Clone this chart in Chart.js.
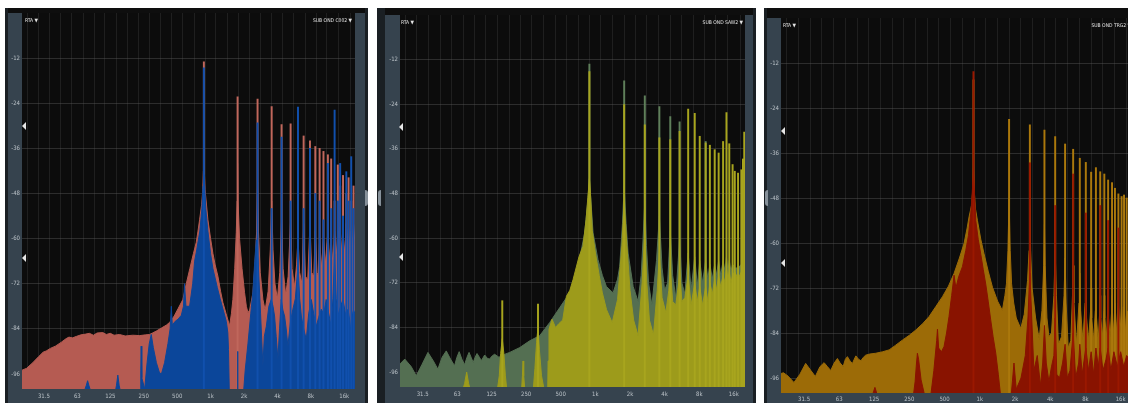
<!DOCTYPE html>
<html>
<head>
<meta charset="utf-8">
<script src="https://cdn.jsdelivr.net/npm/chart.js@4.4.1/dist/chart.umd.min.js"></script>
<style>
  body { margin: 0; width: 1128px; height: 403px; overflow: hidden; background: #fff; position: relative; }
  .frame { position: absolute; top: 8px; height: 395px; background: #1a1f23; }
  .band { position: absolute; top: 8px; background: #0e0e0e; }
  .strip { position: absolute; background: #36434e; }
  canvas { position: absolute; }
  .tag { position: absolute; color: #e4e4e4; font: 5px/6px 'DejaVu Sans Condensed', sans-serif; white-space: nowrap; }
  .marker { position: absolute; width: 0; height: 0; border-top: 4px solid transparent; border-bottom: 4px solid transparent; border-right: 4px solid #e6e6e6; }
  .handle { position: absolute; width: 3px; height: 16px; top: 190px; background: #87919a; }
</style>
</head>
<body>
<!-- panel 1 -->
<div class="frame" style="left:5px;width:363px"></div>
<div class="band" style="left:8px;width:357px;height:5px"></div>
<div class="strip" style="left:8px;top:13px;width:357px;height:390px"></div>
<div class="handle" style="left:365px;border-radius:0 4px 4px 0"></div>
<canvas id="rta1" width="355" height="390" style="left:8px;top:13px"></canvas>
<span class="tag" style="left:25px;top:17px">RTA ▼</span>
<span class="tag" style="right:776px;top:17px">SUB OND C002 ▼</span>
<div class="marker" style="left:22px;top:122px"></div>
<div class="marker" style="left:22px;top:254px"></div>

<!-- panel 2 -->
<div class="frame" style="left:377px;width:379px"></div>
<div class="band" style="left:385px;width:368px;height:7px"></div>
<div class="strip" style="left:385px;top:15px;width:368px;height:388px"></div>
<div class="handle" style="left:378px;border-radius:4px 0 0 4px"></div>
<canvas id="rta2" width="367" height="388" style="left:386px;top:15px"></canvas>
<span class="tag" style="left:401px;top:19px">RTA ▼</span>
<span class="tag" style="right:385px;top:19px">SUB OND SAW2 ▼</span>
<div class="marker" style="left:399px;top:123px"></div>
<div class="marker" style="left:399px;top:253px"></div>

<!-- panel 3 -->
<div class="frame" style="left:764px;width:380px"></div>
<div class="band" style="left:767px;width:380px;height:10px"></div>
<div class="strip" style="left:767px;top:18px;width:380px;height:385px"></div>
<div class="handle" style="left:765px;border-radius:4px 0 0 4px"></div>
<canvas id="rta3" width="372" height="385" style="left:768px;top:18px"></canvas>
<span class="tag" style="left:783px;top:22px">RTA ▼</span>
<span class="tag" style="right:-3px;top:22px">SUB OND TRG2 ▼</span>
<div class="marker" style="left:781px;top:127px"></div>
<div class="marker" style="left:781px;top:259px"></div>

<script>
// axis ticks
const thirdOctaves = [25, 31.5, 40, 50, 63, 80, 100, 125, 160, 200, 250, 315, 400, 500, 630, 800,
  1000, 1250, 1600, 2000, 2500, 3150, 4000, 5000, 6300, 8000, 10000, 12500, 16000];
const octaveFreqs = [31.5, 63, 125, 250, 500, 1000, 2000, 4000, 8000, 16000];
const octaveLabels = ['31.5', '63', '125', '250', '500', '1k', '2k', '4k', '8k', '16k'];
const levelTicks = [-96, -84, -72, -60, -48, -36, -24, -12];

// panel 1 - C002: [Hz, dB]
const c002Back = [[20,-95],[22,-94.5],[25,-93],[28,-91.5],[31,-90.2],[33,-89.9],[36,-89.2],[40,-88.6],[45,-87.6],[50,-86.6],
  [53,-86.2],[57,-86.4],[62,-86],[68,-85.6],[75,-85.4],[81,-85.2],[88,-85.7],[95,-85.1],[107,-85],[115,-85.5],[125,-85.2],
  [135,-85.7],[151,-85.5],[170,-85.9],[199,-85.7],[230,-85.8],[260,-85.6],[282,-85.5],[300,-85.1],[324,-84.6],[360,-83.8],
  [400,-83],[427,-82.3],[470,-80.6],[510,-78.6],[563,-76.2],[604,-72],[650,-68],[700,-64],[743,-61],[770,-58],
  [796,-55],[830,-51],[850,-47],[862,-42],[870,-36],[878,-42],[892,-47],[946,-55],[1000,-60],[1050,-64],[1100,-67],
  [1164,-70],[1230,-74],[1291,-77],[1380,-80],[1483,-83.2],[1540,-80],[1588,-76.2],[1650,-68],[1704,-58.4],[1735,-50],
  [1751,-40],[1767,-50],[1826,-60.3],[1920,-68],[2024,-74.4],[2100,-78],[2170,-79.7],[2250,-79],[2406,-74.4],[2520,-66],
  [2600,-58],[2650,-45],[2700,-58],[2800,-69],[2960,-76.2],[3100,-79],[3300,-74],[3450,-63],[3550,-50],[3650,-63],[3800,-72],
  [4000,-76],[4200,-69],[4360,-55],[4500,-68],[4750,-75],[5000,-70],[5260,-55],[5420,-68],[5700,-73],[5950,-67],[6130,-60],
  [6350,-69],[6650,-72],[6890,-56],[7150,-70],[7500,-71],[7860,-56],[8150,-69],[8500,-70],[8780,-58],[9100,-69],[9350,-70],
  [9600,-60],[9950,-68],[10400,-60],[10800,-67],[11400,-58],[11800,-66],[12200,-60],[12650,-67],[13100,-58],[13550,-65],
  [14000,-58],[14350,-66],[14700,-57],[15150,-64],[15600,-58],[16150,-64],[16700,-56],[17100,-63],[17500,-57],[18000,-64],
  [18500,-58],[18950,-63],[19400,-56],[20000,-62]];
const c002Front = [[20,-101],[72,-101],[76,-99],[78,-97.8],[80,-99],[84,-101],[138,-101],[142,-99],[146,-96.3],[150,-99],
  [155,-101],[232,-101],[235,-95],[237,-88.6],[240,-97],[255,-100],[268,-93],[280,-88],[292,-85.5],[305,-89],[325,-93],
  [345,-95.5],[360,-96.1],[385,-93],[413,-87.9],[432,-84],[443,-78],[452,-83],[480,-82],[510,-81.4],[545,-80.4],[570,-78],
  [582,-72],[600,-78],[647,-78],[690,-72],[718,-66],[750,-63],[800,-58],[835,-52],[855,-46],[870,-43],[885,-46],
  [905,-52],[946,-58],[1000,-64],[1050,-68],[1150,-73],[1220,-76],[1300,-79],[1385,-82],[1430,-85],[1450,-89.5],
  [1475,-101],[1740,-101],[1751,-90],[1762,-101],[1980,-101],[2050,-95],[2170,-88],[2300,-80],[2406,-74],[2500,-66],
  [2580,-60.3],[2650,-62],[2720,-70],[2820,-80],[2960,-93.9],[3050,-86],[3180,-83.3],[3350,-78],[3520,-76.2],[3650,-78],
  [3770,-80.6],[3900,-86],[4040,-92.1],[4180,-84],[4330,-76.2],[4480,-79],[4640,-80.6],[4800,-84],[4970,-88.6],[5250,-82],
  [5510,-78.8],[5800,-76],[6130,-67.3],[6350,-76],[6570,-80.6],[6900,-84],[7280,-86.8],[7650,-80],[8080,-76.2],[8500,-80],
  [8960,-83.3],[9400,-81],[9940,-78.8],[10450,-80],[11000,-76.2],[11600,-80],[12200,-83.3],[12650,-76],[13100,-64],
  [13550,-76],[14000,-80.6],[14800,-78],[15600,-76.2],[16400,-80],[17300,-78.8],[18000,-82],[18600,-86.8],[19000,-80],
  [19400,-79],[20000,-80]];
const c002BackLineHz = [870, 1751, 2650, 3550, 4360, 5260, 6130, 6890, 7860, 8780, 9600, 10400, 11400, 12200, 13100,
  14000, 14700, 15600, 16700, 17500, 18500, 19400];
const c002BackLineDb = [-13, -22.3, -22.9, -24.9, -29.7, -29.5, -48, -32.7, -34, -35.5, -36, -36.8, -37.7, -38.8, -50,
  -40.4, -46, -43.2, -48, -43.8, -50, -46];
const c002FrontLineHz = [870, 2650, 3550, 4360, 5260, 6130, 6890, 7860, 8780, 9600, 10400, 11400, 12200, 13100, 14000,
  14700, 15600, 16700, 17500, 18500, 19400];
const c002FrontLineDb = [-14.6, -29.2, -52, -33, -50, -25, -52, -36, -48, -50, -55, -40, -52, -25.8, -50,
  -40, -54, -42.2, -50, -38.2, -52];

// panel 2 - SAW2
const saw2Back = [[20,-93.8],[22,-92.5],[25,-94.5],[27.7,-97],[31,-94],[35,-90.7],[39,-93],[42.7,-95.2],[46.5,-92],
  [50.5,-90.3],[55,-92.5],[59.6,-94.3],[62.5,-92],[65.4,-90.5],[69,-92.5],[72.9,-94],[76.5,-92],[79.7,-90.7],[83,-92],
  [86.6,-93.4],[90,-92],[93.5,-91],[98,-92],[102,-92.9],[109,-91.4],[115,-92.3],[120,-92.5],[127,-91.6],[133,-91.2],
  [145,-92],[160,-91.3],[180,-90.7],[220,-89.4],[268,-87.6],[328,-86.2],[400,-82.7],[489,-78.7],[598,-74.7],[707,-67.6],
  [807,-58.6],[860,-50],[887,-44],[915,-50],[955,-58.6],[1054,-65.8],[1150,-70],[1247,-73],[1425,-74.7],[1560,-71],
  [1627,-67.6],[1720,-56],[1780,-46],[1850,-56],[1925,-64],[2130,-73],[2350,-77],[2500,-70],[2600,-60],[2690,-50],
  [2780,-62],[2900,-72],[3100,-78],[3400,-66],[3600,-54],[3800,-68],[4000,-74],[4250,-72],[4480,-58],[4700,-70],
  [5000,-76],[5250,-66],[5400,-60],[5650,-72],[6000,-75],[6410,-64],[6800,-74],[7310,-65],[7700,-73],[8080,-66],
  [8550,-72],[9100,-66],[9500,-71],[9900,-67],[10400,-71],[10900,-67],[11300,-70],[11800,-66],[12300,-70],[12900,-66],
  [13400,-69],[13800,-65],[14200,-69],[14600,-66],[15100,-69],[15600,-67],[16300,-68],[17400,-68],[18600,-67],
  [19200,-68],[20000,-68]];
const saw2Front = [[20,-101],[70,-101],[73,-99],[76,-96],[79,-99],[82,-101],[140,-101],[146,-97],[150,-91],[155,-87],
  [160,-91],[165,-97],[170,-101],[228,-101],[232,-97],[235,-93],[238,-97],[244,-101],[288,-101],[298,-95],[308,-88],
  [317,-84],[326,-90],[340,-97],[360,-101],[385,-101],[388,-93],[395,-84.5],[420,-81.8],[450,-84],[480,-83],[520,-82],
  [560,-75.6],[600,-74],[640,-71.1],[720,-65],[780,-62.2],[830,-55],[860,-49],[887,-44],[910,-49],[940,-58],[1000,-64],
  [1080,-70],[1150,-74.7],[1250,-79.2],[1400,-82.7],[1560,-76.5],[1700,-62],[1780,-50],[1880,-62],[2000,-74],
  [2150,-82],[2350,-86.2],[2550,-72],[2690,-58],[2800,-72],[2950,-82],[3200,-86],[3450,-74],[3600,-64],[3800,-76],
  [4100,-80],[4350,-74],[4480,-68],[4700,-77],[5000,-78],[5300,-72],[5400,-68],[5650,-77],[6000,-76],[6410,-70],
  [6800,-78],[7310,-72],[7700,-77],[8080,-73],[8550,-78],[9100,-73],[9500,-77],[9900,-72],[10400,-75],[10900,-71],
  [11300,-74],[11800,-70],[12300,-73],[12900,-70],[13400,-72],[13800,-68],[14200,-71],[14600,-69],[15100,-72],
  [15600,-70],[16300,-69],[17400,-71],[18600,-69],[19200,-70],[20000,-70]];
const saw2BackLineHz = [887, 1780, 2690, 3600, 4480, 5400, 9100];
const saw2BackLineDb = [-13.2, -17.7, -21.7, -24.6, -27.3, -28.7, -34];
const saw2FrontLineHz = [155, 317, 887, 1780, 2690, 3600, 4480, 5400, 6410, 7310, 8080, 9100, 9900, 10900, 11800,
  12900, 13800, 14600, 15600, 16300, 17400, 18600, 19200, 19700];
const saw2FrontLineDb = [-76.8, -77.7, -15.2, -24.1, -29.5, -33, -33.5, -31.3, -25.3, -26.4, -32.6, -34.4, -35, -36.2,
  -37.1, -34, -26.2, -34.6, -40.2, -42, -42.5, -41.6, -38.7, -31.5];

// panel 3 - TRG2
const trg2Back = [[20,-94.8],[21,-94.6],[23,-95.5],[25.8,-97.2],[29,-95],[32.5,-92.1],[36,-94],[39.3,-95.6],[43,-93],
  [46.7,-91.9],[50,-93],[53.2,-94],[57,-92],[60.7,-90.8],[64,-92],[68,-92.9],[71,-91],[73.9,-90.3],[78,-91.5],
  [81.7,-92.1],[84.5,-91],[87.3,-90.1],[92,-91],[96.4,-91.4],[101,-90.5],[106,-89.9],[115,-89.6],[129,-89.4],[148,-89],
  [168,-88.5],[190,-87.3],[218,-85.9],[250,-84.6],[284,-83.2],[325,-81.5],[369,-79.6],[420,-77],[480,-74.3],[540,-71.5],
  [603,-68.1],[670,-64],[734,-60.1],[780,-56],[810,-53],[850,-50],[870,-46],[883,-40],[896,-46],[920,-51],[955,-54],
  [1020,-59],[1088,-62.9],[1180,-67.5],[1284,-71.8],[1420,-75.5],[1560,-78],[1640,-74],[1690,-70.9],[1740,-62],
  [1780,-48],[1820,-62],[1870,-70.9],[1950,-76],[2050,-80],[2240,-82.8],[2400,-79],[2560,-70],[2640,-62],[2680,-50],
  [2720,-62],[2800,-72],[3000,-80],[3220,-85.7],[3400,-78],[3520,-66],[3570,-55],[3620,-66],[3750,-80],[3900,-85],
  [4100,-84],[4300,-74],[4410,-62],[4520,-74],[4700,-87],[5000,-85],[5250,-74],[5360,-64],[5470,-76],[5700,-88],
  [6000,-86],[6200,-74],[6280,-66],[6380,-76],[6700,-87],[7050,-76],[7160,-68],[7280,-78],[7600,-86],[7950,-76],
  [8060,-70],[8180,-80],[8500,-86],[8850,-78],[8950,-72],[9050,-80],[9400,-86],[9730,-78],[9830,-72],[9950,-80],
  [10300,-86],[10600,-78],[10700,-74],[10800,-80],[11200,-85],[11500,-78],[11600,-74],[11700,-80],[12100,-85],
  [12400,-78],[12500,-74],[12600,-80],[13000,-85],[13400,-78],[13500,-74],[13600,-80],[13900,-84],[14300,-76],
  [14800,-84],[15300,-76],[15800,-84],[16300,-77],[16700,-84],[17100,-77],[17600,-84],[18000,-78],[20000,-80]];
const trg2Front = [[20,-101],[120,-101],[124,-99.5],[127,-98.5],[130,-99.5],[134,-101],[270,-101],[280,-97],[288,-92],
  [293,-89.4],[300,-91],[315,-96.5],[340,-101],[380,-101],[405,-94],[428,-86],[435,-83],[445,-88],[470,-89],[495,-87.6],
  [520,-84],[546,-79.6],[575,-74],[603,-68.6],[625,-72],[660,-69],[711,-66.3],[759,-62],[800,-58],[838,-52],[860,-47],
  [883,-41],[905,-48],[924,-54],[970,-59],[1020,-63],[1070,-67],[1125,-71],[1180,-75.5],[1240,-80.5],[1300,-85],
  [1370,-89.4],[1440,-95],[1510,-101],[1850,-101],[1900,-97],[1960,-92],[2050,-99],[2250,-96],[2450,-90],[2580,-80],
  [2680,-68],[2780,-80],[2900,-94],[3100,-90],[3300,-98],[3450,-92],[3570,-82],[3700,-92],[3900,-97],[4100,-93],
  [4300,-90],[4410,-80],[4550,-95],[4800,-96],[5100,-92],[5360,-87],[5600,-96],[5900,-94],[6280,-84],[6600,-96],
  [7000,-92],[7160,-87],[7500,-95],[8060,-88],[8500,-94],[8950,-89],[9400,-95],[9830,-88],[10300,-93],[10700,-88],
  [11300,-94],[12000,-91],[12500,-88],[13200,-94],[14000,-89],[15000,-93],[16000,-89],[17000,-93],[18000,-90],
  [20000,-92]];
const trg2BackLineHz = [883, 1780, 2680, 3570, 4410, 5360, 6280, 7160, 8060, 8950, 9830, 10700, 11600, 12500, 13500,
  14300, 15300, 16300, 17100, 18000, 19000];
const trg2BackLineDb = [-16.5, -27, -28.5, -29.9, -31.6, -33.6, -35, -37.4, -38.5, -41.1, -39.9, -41, -41.6, -43.2,
  -43.9, -45.4, -46.9, -47.6, -47.2, -48, -49];
const trg2FrontLineHz = [883, 2680, 4410, 6280, 8060, 10700, 12500, 15300];
const trg2FrontLineDb = [-14.3, -38.6, -50, -41.6, -52, -50, -54, -56];

Chart.defaults.font.family = "'DejaVu Sans Condensed', 'Liberation Sans Narrow', sans-serif";

// black plot field behind the spectrum
const plotBackground = {
  id: 'plotBackground',
  beforeDraw(chart) {
    const { ctx, chartArea: { left, top, width, height } } = chart;
    ctx.save();
    ctx.fillStyle = '#0c0c0c';
    ctx.fillRect(left, top, width, height);
    ctx.restore();
  }
};

const toPoints = pairs => pairs.map(([hz, db]) => ({ x: hz, y: db }));
const toLines = (hz, db) => hz.map((f, i) => ({ x: f, y: [-100, db[i]] }));

function area(pairs, color, order) {
  return { data: toPoints(pairs), backgroundColor: color, borderColor: color, borderWidth: 1,
    fill: 'start', pointRadius: 0, tension: 0, order };
}
function lines(hz, db, color, order) {
  return { type: 'bar', data: toLines(hz, db), backgroundColor: color, barThickness: 1.3,
    grouped: false, borderWidth: 0, order };
}

function drawRta(id, datasets, axisW, axisH, labelPad) {
  new Chart(document.getElementById(id), {
    type: 'line',
    data: { datasets },
    options: {
      responsive: false,
      animation: false,
      events: [],
      layout: { padding: { left: 0, right: 8, top: 0, bottom: 0 } },
      plugins: { legend: { display: false }, tooltip: { enabled: false } },
      scales: {
        x: {
          type: 'logarithmic', min: 20, max: 20000, z: 1,
          afterBuildTicks: s => { s.ticks = thirdOctaves.map(v => ({ value: v })); },
          afterFit: s => { s.height = axisH; s.paddingLeft = 0; s.paddingRight = 0; },
          grid: { color: 'rgba(70,70,70,0.35)', drawTicks: false },
          border: { display: false },
          ticks: {
            autoSkip: false, maxRotation: 0, padding: labelPad, color: '#b9c0c6', font: { size: 6 },
            callback: v => { const i = octaveFreqs.indexOf(v); return i < 0 ? '' : octaveLabels[i]; }
          }
        },
        y: {
          min: -100, max: 0, z: 1,
          afterBuildTicks: s => { s.ticks = levelTicks.map(v => ({ value: v })); },
          afterFit: s => { s.width = axisW; s.paddingTop = 0; s.paddingBottom = 0; },
          grid: { color: 'rgba(95,95,95,0.4)', drawTicks: false },
          border: { display: false },
          ticks: { autoSkip: false, padding: 2, color: '#b9c0c6', font: { size: 6 }, callback: v => String(v) }
        }
      }
    },
    plugins: [plotBackground]
  });
}

drawRta('rta1', [
  area(c002Back, '#b55b52', 4),
  lines(c002BackLineHz, c002BackLineDb, '#c0675c', 3),
  area(c002Front, '#0b469a', 2),
  lines(c002FrontLineHz, c002FrontLineDb, '#1150ad', 1)
], 14, 14, 4);

drawRta('rta2', [
  area(saw2Back, '#546f52', 4),
  lines(saw2BackLineHz, saw2BackLineDb, '#5f7f5a', 3),
  area(saw2Front, '#9d9b1b', 2),
  lines(saw2FrontLineHz, saw2FrontLineDb, '#a8a51e', 1)
], 14, 16, 4);

drawRta('rta3', [
  area(trg2Back, '#9c6b07', 4),
  lines(trg2BackLineHz, trg2BackLineDb, '#ab780c', 3),
  area(trg2Front, '#891300', 2),
  lines(trg2FrontLineHz, trg2FrontLineDb, '#9a1800', 1)
], 13, 10, 3);
</script>
</body>
</html>
